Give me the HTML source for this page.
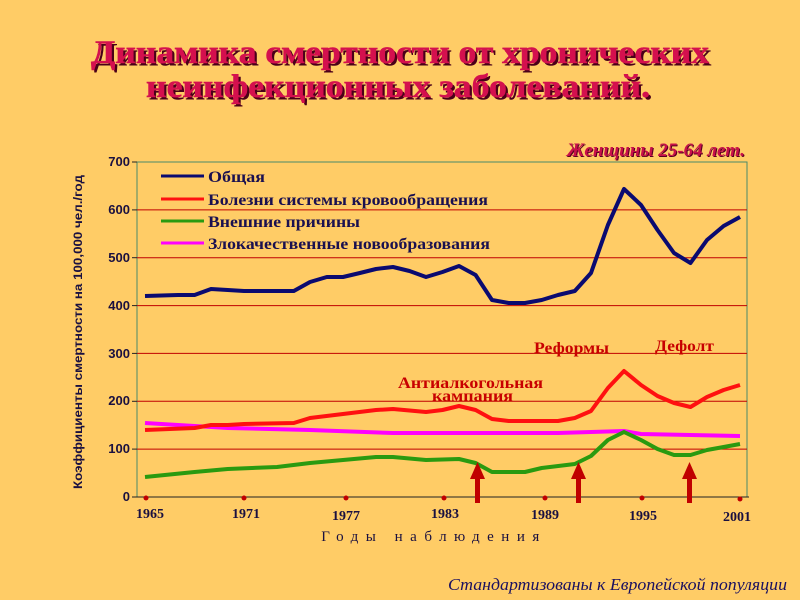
<!DOCTYPE html>
<html><head><meta charset="utf-8"><style>
html,body{margin:0;padding:0;background:#FFCC66;}
svg{display:block}
</style></head><body>
<svg width="800" height="600" xmlns="http://www.w3.org/2000/svg">
<rect width="800" height="600" fill="#FFCC66"/>
<g font-family="Liberation Serif, serif" font-weight="bold" font-size="33" text-anchor="middle">
<text x="402.5" y="65.5" fill="#4a0018" textLength="618" lengthAdjust="spacingAndGlyphs">Динамика смертности от хронических</text>
<text x="400" y="63" fill="#D4104E" stroke="#D4104E" stroke-width="0.6" textLength="618" lengthAdjust="spacingAndGlyphs">Динамика смертности от хронических</text>
<text x="400.5" y="99.5" fill="#4a0018" textLength="504" lengthAdjust="spacingAndGlyphs">неинфекционных заболеваний.</text>
<text x="398" y="97" fill="#D4104E" stroke="#D4104E" stroke-width="0.6" textLength="504" lengthAdjust="spacingAndGlyphs">неинфекционных заболеваний.</text>
</g>
<text x="746" y="157" font-family="Liberation Serif, serif" font-weight="bold" font-style="italic" font-size="19" fill="#5a0020" text-anchor="end">Женщины 25-64 лет.</text>
<text x="745" y="156" font-family="Liberation Serif, serif" font-weight="bold" font-style="italic" font-size="19" fill="#C8104A" text-anchor="end">Женщины 25-64 лет.</text>
<rect x="137" y="162" width="610" height="335" fill="none" stroke="#4a8a6a" stroke-width="1"/>
<g stroke="#C00000" stroke-width="1">
<line x1="137" y1="449.1" x2="747" y2="449.1"/>
<line x1="137" y1="401.3" x2="747" y2="401.3"/>
<line x1="137" y1="353.4" x2="747" y2="353.4"/>
<line x1="137" y1="305.6" x2="747" y2="305.6"/>
<line x1="137" y1="257.7" x2="747" y2="257.7"/>
<line x1="137" y1="209.9" x2="747" y2="209.9"/>
</g>
<g stroke="#222" stroke-width="1">
<line x1="137" y1="497" x2="749" y2="497"/>
<line x1="132" y1="162" x2="137" y2="162"/><line x1="132" y1="209.9" x2="137" y2="209.9"/><line x1="132" y1="257.7" x2="137" y2="257.7"/><line x1="132" y1="305.6" x2="137" y2="305.6"/><line x1="132" y1="353.4" x2="137" y2="353.4"/><line x1="132" y1="401.3" x2="137" y2="401.3"/><line x1="132" y1="449.1" x2="137" y2="449.1"/><line x1="132" y1="497" x2="137" y2="497"/>
</g>
<g id="ticks" stroke="#222" stroke-width="1"></g>
<g font-family="Liberation Sans, sans-serif" font-weight="bold" font-size="13" fill="#1a1040" text-anchor="end">
<text x="130" y="166">700</text><text x="130" y="214">600</text><text x="130" y="262">500</text><text x="130" y="310">400</text><text x="130" y="358">300</text><text x="130" y="405">200</text><text x="130" y="453">100</text><text x="130" y="501">0</text>
</g>
<text transform="translate(82,332) rotate(-90)" font-family="Liberation Sans, sans-serif" font-weight="bold" font-size="12" fill="#1a1040" text-anchor="middle" textLength="314" lengthAdjust="spacingAndGlyphs">Коэффициенты смертности на 100,000 чел./год</text>
<g font-family="Liberation Serif, serif" font-weight="bold" font-size="14" fill="#1a1040" text-anchor="middle">
<text x="150" y="518">1965</text><text x="246" y="518">1971</text><text x="346" y="520">1977</text><text x="445" y="518">1983</text><text x="545" y="519">1989</text><text x="643" y="520">1995</text><text x="737" y="521">2001</text>
</g>
<text x="434" y="541" font-family="Liberation Serif, serif" font-size="15" fill="#1a1040" text-anchor="middle" letter-spacing="7.5">Годы наблюдения</text>
<g fill="#C00000">
<circle cx="146" cy="498" r="2.5"/><circle cx="244" cy="498" r="2.5"/><circle cx="346" cy="498" r="2.5"/><circle cx="444" cy="498" r="2.5"/><circle cx="545" cy="498" r="2.5"/><circle cx="642" cy="498" r="2.5"/><circle cx="740" cy="499" r="2.5"/>
</g>
<g fill="none" stroke-linejoin="round" stroke-width="4">
<polyline stroke="#FF00FF" points="145,423 178,425 227.7,428 310,430 393,433 558,433 624,431 641,434 740,436"/>
<polyline stroke="#2a9a10" points="145,477 194.6,472 227.7,469 277,467 310,463 343,460 376,457 393,457 426,460 459,459 475.6,463 492,472 525,472 541.7,468 574.8,464 591,456 607.9,440 624,432 641,440 657.5,449 674,455 690.5,455 707,450 723.6,447 740,444"/>
<polyline stroke="#FF1010" points="145,430 194.6,428 211,425 227.7,425 244,424 293.8,423 310,418 343,414 376,410 393,409 426,412 442.5,410 459,406 475.6,410 492,419 508.7,421 558,421 574.8,418 591,411 607.9,388 624,371 641,385 657.5,396 674,403 690.5,407 707,397 723.6,390 740,385"/>
<polyline stroke="#0a0a70" points="145,296 178,295 194.6,295 211,289 227.7,290 244,291 293.8,291 310,282 326.8,277 343,277 359.9,273 376,269 393,267 409.5,271 426,277 442.5,272 459,266 475.6,275 492,300 508.7,303 525,303 541.7,300 558,295 574.8,291 591,273 607.9,225 624,189 641,205 657.5,230 674,253 690.5,263 707,240 723.6,226 740,217"/>
</g>
<g fill="#C00000">
<rect x="475" y="476" width="5" height="27"/><polygon points="470,479 477.5,462 485,479"/>
<rect x="576" y="476" width="5" height="27"/><polygon points="571,479 578.5,462 586,479"/>
<rect x="687" y="476" width="5" height="27"/><polygon points="682,479 689.5,462 697,479"/>
</g>
<g font-family="Liberation Serif, serif" font-weight="bold" font-size="16" fill="#C80000">
<text x="398" y="388" textLength="145" lengthAdjust="spacingAndGlyphs">Антиалкогольная</text>
<text x="432" y="401" textLength="81" lengthAdjust="spacingAndGlyphs">кампания</text>
<text x="534" y="353" textLength="75" lengthAdjust="spacingAndGlyphs">Реформы</text>
<text x="655" y="351" textLength="59" lengthAdjust="spacingAndGlyphs">Дефолт</text>
</g>
<g stroke-width="3">
<line x1="161" y1="176" x2="204" y2="176" stroke="#0a0a70"/>
<line x1="161" y1="199" x2="204" y2="199" stroke="#FF1010"/>
<line x1="161" y1="221" x2="204" y2="221" stroke="#2a9a10"/>
<line x1="161" y1="243" x2="204" y2="243" stroke="#FF00FF"/>
</g>
<g font-family="Liberation Serif, serif" font-weight="bold" font-size="15.5" fill="#1a1050">
<text x="208" y="182" textLength="57" lengthAdjust="spacingAndGlyphs">Общая</text>
<text x="208" y="205" textLength="280" lengthAdjust="spacingAndGlyphs">Болезни системы кровообращения</text>
<text x="208" y="227" textLength="152" lengthAdjust="spacingAndGlyphs">Внешние причины</text>
<text x="208" y="249" textLength="282" lengthAdjust="spacingAndGlyphs">Злокачественные новообразования</text>
</g>
<text x="448" y="590" font-family="Liberation Serif, serif" font-style="italic" font-size="17" fill="#1a1060" textLength="339" lengthAdjust="spacingAndGlyphs">Стандартизованы к Европейской популяции</text>
<script>
var g=document.getElementById('ticks');var s='';
for(var i=0;i<=36;i++){var x=145+16.53*i;s+='<line x1="'+x+'" y1="494" x2="'+x+'" y2="500"/>';}
g.innerHTML=s;
</script>
</svg>
</body></html>
